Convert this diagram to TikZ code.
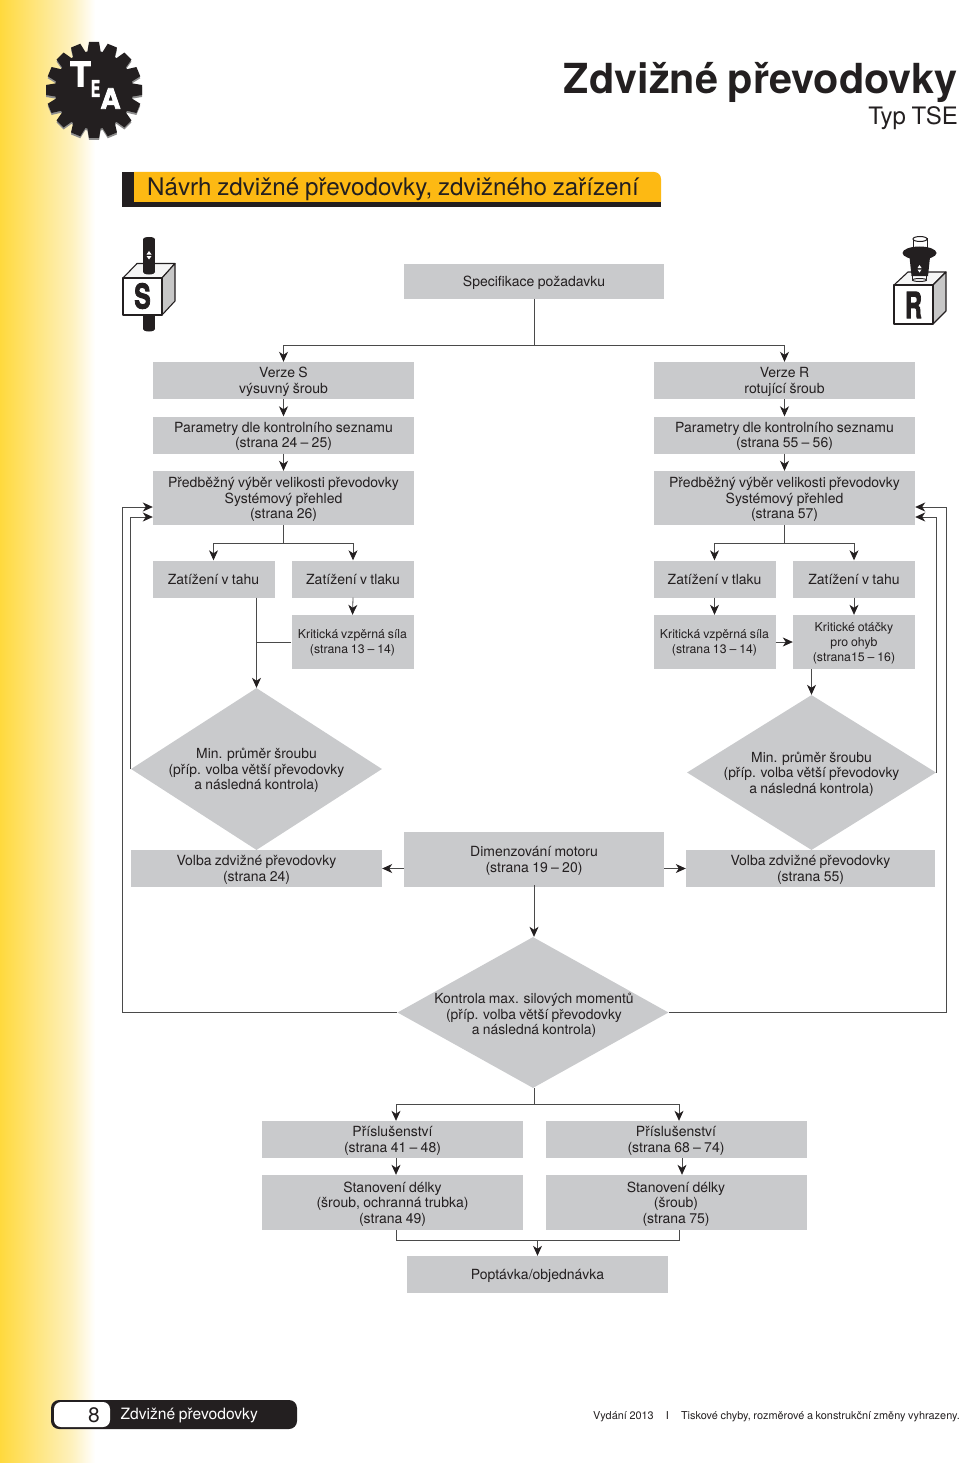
\documentclass[tikz,border=0pt]{standalone}
\usepackage{fontspec}
\setmainfont[WordSpace=0.85]{TeX Gyre Heros}
\newfontfamily\heavyfont{TeX Gyre Heros}[FakeBold=3]
\usetikzlibrary{positioning,shapes.geometric,arrows.meta}
\definecolor{boxgray}{HTML}{C9CACC}
\definecolor{inkblack}{HTML}{231F20}
\definecolor{linegray}{HTML}{4A4A4A}
\definecolor{stripyellow}{HTML}{FFD93D}
\definecolor{stripmid}{HTML}{FEF1BE}
\definecolor{bannerorange}{HTML}{FDB913}
\tikzset{
  greybox/.style = {fill = boxgray, text = inkblack, inner sep = 0pt, align = center, minimum height = 37pt, text depth = -1.5pt, font = \fontsize{14}{15.5}\selectfont},
  widebox/.style = {greybox, minimum width = 261pt},
  halfbox/.style = {greybox, minimum width = 122pt},
  smallbox/.style = {halfbox, font = \fontsize{12.3}{15}\selectfont},
  decision/.style = {diamond, fill = boxgray, inner sep = 0pt},
  decisiontext/.style = {text = inkblack, inner sep = 0pt, align = center, text depth = -1.5pt, font = \fontsize{13.9}{15.5}\selectfont},
  link/.style = {draw = linegray, line width = 0.8pt},
  arrowlink/.style = {link, -{Stealth[length = 10pt, width = 9pt, inset = 3pt, color = inkblack]}},
  cube/.style = {draw = inkblack, line width = 1.1pt, line join = round},
  logoletter/.style = {text = white, inner sep = 0pt, font = \heavyfont\bfseries\fontsize{#1}{#1}\selectfont}
}
\begin{document}
\begin{tikzpicture}[x = 1pt, y = -1pt]
\useasboundingbox (0,0) rectangle (960,1463);
\fill[left color = stripyellow, right color = stripmid] (0,0) rectangle (72,1463);
\fill[left color = stripmid, right color = white] (72,0) rectangle (95,1463);

\begin{scope}[shift = {(0,2)}]
\fill[black!45] (94,90) circle (39);
\foreach \a in {0,22.5,...,337.5}
  \fill[black!45, rotate around = {\a:(94,90)}] (89,42) -- (99,42) -- (101,54) -- (87,54) -- cycle;
\end{scope}
\fill[inkblack] (94,90) circle (39);
\foreach \a in {0,22.5,...,337.5}
  \fill[inkblack, rotate around = {\a:(94,90)}] (89,42) -- (99,42) -- (101,54) -- (87,54) -- cycle;
\node[logoletter = 34] (logoT) at (80.5,74) {T};
\node[logoletter = 23] (logoE) at (95.5,88.5) {\scalebox{.6}[1]{E}};
\node[logoletter = 28] (logoA) at (110.5,98.5) {A};

\node[anchor = east, text = inkblack, font = \bfseries\fontsize{41.4}{42}\selectfont, inner sep = 0pt] (title) at (958,82) {Zdvižné převodovky};
\node[anchor = east, text = inkblack, font = \fontsize{24}{26}\selectfont, inner sep = 0pt] (subtitle) at (958,118.5) {Typ TSE};

\fill[inkblack] (122,172) rectangle (134,207);
\fill[inkblack] (122,202) rectangle (661,207);
\fill[bannerorange] (134,172) [rounded corners = 7pt] -- (661,172) [sharp corners] -- (661,202) -- (134,202) -- cycle;
\node[anchor = west, text = inkblack, font = \fontsize{24.2}{26}\selectfont, inner sep = 0pt] (banner) at (147,189) {Návrh zdvižné převodovky, zdvižného zařízení};

\fill[black!4, cube] (123,278) -- (137,263.5) -- (175,263.5) -- (162,278) -- cycle;
\fill[black!22, cube] (162,278) -- (175,263.5) -- (175,301) -- (162,315) -- cycle;
\fill[inkblack] (143,239) rectangle (155,272);
\fill[inkblack] (149,239) ellipse (6 and 2);
\fill[inkblack] (149,272) ellipse (6 and 2.5);
\fill[white] (149,251) -- (151.5,254.5) -- (146.5,254.5) -- cycle;
\fill[white] (149,259.5) -- (151.5,256) -- (146.5,256) -- cycle;
\fill[white, cube] (123,278) rectangle (162,315);
\fill[inkblack] (143,315.5) rectangle (155,329);
\fill[inkblack] (149,329) ellipse (6 and 2.5);
\node[text = inkblack, inner sep = 0pt, font = \heavyfont\bfseries\fontsize{34}{34}\selectfont] (iconS) at (142.5,296) {\scalebox{.72}[1]{S}};

\fill[black!4, cube] (894,285) -- (908,272) -- (946,272) -- (933,285) -- cycle;
\fill[black!22, cube] (933,285) -- (946,272) -- (946,311) -- (933,324) -- cycle;
\fill[white, cube] (894,285) rectangle (933,324);
\fill[white, draw = inkblack, line width = 1pt] (912.5,274) rectangle (926.5,280);
\draw[inkblack, fill = white, line width = 1pt] (919.5,280) ellipse (7 and 1.5);
\fill[white, draw = inkblack, line width = 1pt] (913,239) rectangle (927,254);
\draw[inkblack, fill = white, line width = 1pt] (920,239) ellipse (7 and 2.5);
\fill[inkblack] (909.5,257) -- (930,257) -- (928,276) -- (911.5,276) -- cycle;
\fill[inkblack] (919.5,253) ellipse (17 and 6.5);
\fill[white] (919.5,265) -- (921.5,268) -- (917.5,268) -- cycle;
\fill[white] (919.5,272.5) -- (921.5,269.5) -- (917.5,269.5) -- cycle;
\node[text = inkblack, inner sep = 0pt, font = \heavyfont\bfseries\fontsize{36}{36}\selectfont] (iconR) at (913.5,305) {\scalebox{.65}[1]{R}};

\node[greybox, minimum width = 260pt, minimum height = 35pt] (spec) at (534,281) {Specifikace požadavku};

\node[widebox] (verzeS) at (283.5,380.5) {Verze S\\výsuvný šroub};
\node[widebox] (paramS) at (283.5,435) {Parametry dle kontrolního seznamu\\(strana 24 -- 25)};
\node[widebox, minimum height = 54pt] (predS) at (283.5,498) {Předběžný výběr velikosti převodovky\\Systémový přehled\\(strana 26)};
\node[widebox] (verzeR) at (784.5,380.5) {Verze R\\rotující šroub};
\node[widebox] (paramR) at (784.5,435) {Parametry dle kontrolního seznamu\\(strana 55 -- 56)};
\node[widebox, minimum height = 54pt] (predR) at (784.5,498) {Předběžný výběr velikosti převodovky\\Systémový přehled\\(strana 57)};

\node[halfbox] (tahS) at (213.5,579) {Zatížení v tahu};
\node[halfbox] (tlakS) at (353,579) {Zatížení v tlaku};
\node[smallbox, minimum height = 54pt] (kritS) at (352.5,642) {Kritická vzpěrná síla\\(strana 13 -- 14)};
\node[halfbox] (tlakR) at (714.5,579) {Zatížení v tlaku};
\node[halfbox] (tahR) at (854,579) {Zatížení v tahu};
\node[smallbox, minimum height = 54pt] (kritR) at (714.5,642) {Kritická vzpěrná síla\\(strana 13 -- 14)};
\node[smallbox, minimum height = 54pt] (otackyR) at (854,642) {Kritické otáčky\\pro ohyb\\(strana15 -- 16)};

\node[decision, minimum width = 251pt, minimum height = 162pt, label = {[decisiontext]center:{Min. průměr šroubu\\(příp. volba větší převodovky\\a následná kontrola)}}] (minS) at (256.5,769) {};
\node[decision, minimum width = 249pt, minimum height = 155pt, label = {[decisiontext]center:{Min. průměr šroubu\\(příp. volba větší převodovky\\a následná kontrola)}}] (minR) at (811.5,772.5) {};

\node[greybox, minimum width = 251pt] (volbaS) at (256.5,868.5) {Volba zdvižné převodovky\\(strana 24)};
\node[greybox, minimum width = 249pt] (volbaR) at (810.5,868.5) {Volba zdvižné převodovky\\(strana 55)};
\node[greybox, minimum width = 260pt, minimum height = 55pt] (motor) at (534,859.5) {Dimenzování motoru\\(strana 19 -- 20)};

\node[decision, minimum width = 271pt, minimum height = 151pt, label = {[decisiontext, yshift = -1.5pt, xshift = 1pt]center:{Kontrola max. silových momentů\\(příp. volba větší převodovky\\a následná kontrola)}}] (kontrola) at (533,1012.5) {};

\node[widebox] (prisL) at (392.5,1139.5) {Příslušenství\\(strana 41 -- 48)};
\node[widebox] (prisR) at (676,1139.5) {Příslušenství\\(strana 68 -- 74)};
\node[widebox, minimum height = 55pt] (stanL) at (392.5,1202.5) {Stanovení délky\\(šroub, ochranná trubka)\\(strana 49)};
\node[widebox, minimum height = 55pt] (stanR) at (676,1202.5) {Stanovení délky\\(šroub)\\(strana 75)};
\node[widebox] (poptavka) at (537.5,1274.5) {Poptávka/objednávka};

\coordinate (topfork) at (534,345);
\draw[link] (spec.south) -- (topfork);
\draw[arrowlink] (topfork) -| (verzeS.north);
\draw[arrowlink] (topfork) -| (verzeR.north);
\draw[arrowlink] (verzeS.south) -- (paramS.north);
\draw[arrowlink] (paramS.south) -- (predS.north);
\draw[arrowlink] (verzeR.south) -- (paramR.north);
\draw[arrowlink] (paramR.south) -- (predR.north);

\coordinate (forkS) at (283.5,543);
\coordinate (forkR) at (784.5,543);
\draw[link] (predS.south) -- (forkS);
\draw[arrowlink] (forkS) -| (tahS.north);
\draw[arrowlink] (forkS) -| (tlakS.north);
\draw[link] (predR.south) -- (forkR);
\draw[arrowlink] (forkR) -| (tlakR.north);
\draw[arrowlink] (forkR) -| (tahR.north);
\draw[arrowlink] (tlakS.south) -- (kritS.north);
\draw[arrowlink] (tlakR.south) -- (kritR.north);
\draw[arrowlink] (tahR.south) -- (otackyR.north);

\draw[arrowlink] (tahS.south -| minS.north) -- (minS.north);
\draw[link] (kritS.west) -- (kritS.west -| minS.north);
\draw[arrowlink] (kritR.east) -- (otackyR.west);
\draw[arrowlink] (otackyR.south -| minR.north) -- (minR.north);

\coordinate (backS) at (131.5,517);
\coordinate (backR) at (936.5,517);
\coordinate (outerS) at (122,507);
\coordinate (outerR) at (946,507);
\draw[arrowlink] (minS.west) |- (backS -| predS.west);
\draw[arrowlink] (minR.east) |- (backR -| predR.east);
\draw[arrowlink] (kontrola.west) -| (outerS) -- (outerS -| predS.west);
\draw[arrowlink] (kontrola.east) -| (outerR) -- (outerR -| predR.east);

\draw[arrowlink] (motor.west |- volbaS.east) -- (volbaS.east);
\draw[arrowlink] (motor.east |- volbaR.west) -- (volbaR.west);
\draw[arrowlink] ([yshift = 2pt]motor.south) -- (motor.south |- kontrola.north);

\coordinate (botfork) at (534.5,1104);
\draw[link] (kontrola.south -| botfork) -- (botfork);
\draw[arrowlink] (botfork) -| ([xshift = 3.5pt]prisL.north);
\draw[arrowlink] (botfork) -| ([xshift = 3pt]prisR.north);
\draw[arrowlink] ([xshift = 3.5pt]prisL.south) -- ([xshift = 3.5pt]stanL.north);
\draw[arrowlink] ([xshift = 6pt]prisR.south) -- ([xshift = 6pt]stanR.north);
\coordinate (joinfork) at (537.5,1240);
\draw[link] ([xshift = 3.5pt]stanL.south) |- (joinfork) -| ([xshift = 3pt]stanR.south);
\draw[arrowlink] (joinfork) -- (poptavka.north);

\fill[inkblack, rounded corners = 8pt] (51,1400) rectangle (297,1429);
\fill[white, rounded corners = 7pt] (54,1402) rectangle (110,1427);
\node[text = inkblack, inner sep = 0pt, font = \fontsize{21}{21}\selectfont] (pagenum) at (94,1415) {8};
\node[anchor = west, text = white, inner sep = 0pt, font = \fontsize{15.6}{17}\selectfont] (footlabel) at (120.5,1415.5) {Zdvižné převodovky};
\node[anchor = east, text = inkblack, inner sep = 0pt, font = \fontsize{10.9}{11}\selectfont] (footnote) at (960,1417) {Vydání 2013 \hspace{7pt} I \hspace{7pt} Tiskové chyby, rozměrové a konstrukční změny vyhrazeny.};
\end{tikzpicture}
\end{document}
